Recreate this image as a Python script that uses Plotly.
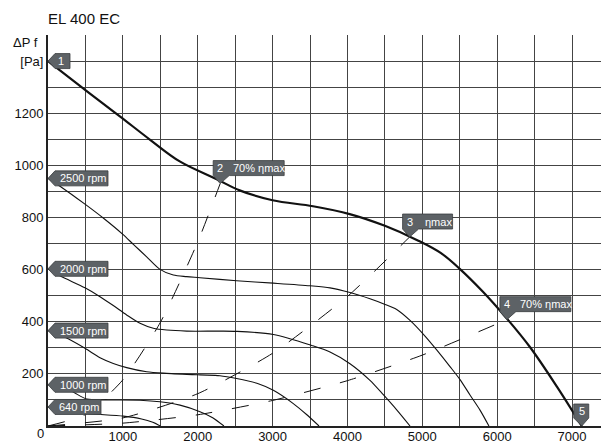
import plotly.graph_objects as go

# ---- data ----
main_x = [0, 530, 960, 1360, 1760, 2260, 2560, 3000, 3540, 4030, 4500, 4940, 5250, 5500, 5810, 6130, 6440, 6800, 7130]
main_y = [1400, 1282, 1188, 1099, 1015, 946, 904, 866, 843, 813, 768, 712, 663, 603, 515, 412, 302, 150, 0]

rpm_names = ["2500 rpm", "2000 rpm", "1500 rpm", "1000 rpm", "640 rpm"]
rpm2500_x = [0, 160, 494, 750, 1000, 1140, 1318, 1496, 1674, 1852, 2030, 2520, 3010, 3500, 3767, 4034, 4301, 4479, 4658, 4836, 5036, 5192, 5370, 5504, 5637, 5771, 5890]
rpm2500_y = [950, 920, 851, 795, 735, 697, 649, 601, 579, 573, 569, 557, 548, 538, 530, 512, 488, 469, 447, 405, 345, 292, 228, 178, 119, 61, 0]
rpm2000_x = [0, 160, 494, 695, 872, 1051, 1229, 1407, 1585, 1852, 2297, 2520, 3010, 3522, 3767, 4034, 4301, 4479, 4658, 4836]
rpm2000_y = [603, 576, 530, 496, 462, 426, 394, 375, 368, 364, 364, 363, 351, 309, 284, 239, 175, 120, 62, 0]
rpm1500_x = [0, 227, 494, 695, 872, 1051, 1318, 1585, 2030, 2297, 2520, 2800, 3010, 3277, 3450, 3620]
rpm1500_y = [366, 340, 298, 262, 240, 224, 208, 202, 196, 193, 182, 163, 137, 86, 45, 0]
rpm1000_x = [0, 300, 520, 800, 1229, 1496, 1763, 2030, 2200, 2350]
rpm1000_y = [158, 135, 103, 100, 99, 93, 80, 55, 32, 0]
rpm640_x = [0, 300, 520, 1007, 1250, 1400, 1500]
rpm640_y = [73, 57, 48, 38, 27, 14, 0]

# system (efficiency) lines, dashed
sys70a_x = [0, 500, 1000, 1500, 2000, 2300]
sys70a_y = [0, 44, 177, 397, 706, 930]
sysmax_x = [0, 1000, 2000, 3000, 4000, 4830]
sysmax_y = [0, 31, 124, 279, 497, 725]
sys70b_x = [0, 1000, 2000, 3000, 4000, 5000, 6130]
sys70b_y = [0, 11, 43, 98, 174, 272, 408]

point_labels = ["1", "2", "3", "4", "5"]
point_x = [0, 2300, 4830, 6130, 7130]
point_y = [1400, 930, 725, 408, 0]
point_texts = ["", "70% ηmax", "ηmax", "70% ηmax", ""]

x_tickvals = list(range(0, 7501, 500))
x_ticktext = [str(v) if (v % 1000 == 0 and v > 0) else "" for v in x_tickvals]
y_tickvals = list(range(0, 1501, 100))
y_ticktext = ["[Pa]" if v == 1400 else (str(v) if (v % 200 == 0 and 0 < v <= 1200) else "") for v in y_tickvals]

LABEL_FILL = "#5d6266"
FONT = "Liberation Sans, Arial, sans-serif"

fig = go.Figure()

for xs, ys in [(sys70a_x, sys70a_y), (sysmax_x, sysmax_y), (sys70b_x, sys70b_y)]:
    fig.add_trace(go.Scatter(x=xs, y=ys, mode="lines", line=dict(color="#111", width=1, dash="17px,20px", shape="spline", smoothing=0.6), hoverinfo="skip"))

rpm_series = [(rpm2500_x, rpm2500_y), (rpm2000_x, rpm2000_y), (rpm1500_x, rpm1500_y), (rpm1000_x, rpm1000_y), (rpm640_x, rpm640_y)]
for xs, ys in rpm_series:
    fig.add_trace(go.Scatter(x=xs, y=ys, mode="lines", line=dict(color="#111", width=1.1, shape="spline", smoothing=0.8), hoverinfo="skip"))

fig.add_trace(go.Scatter(x=main_x, y=main_y, mode="lines", line=dict(color="#111", width=2.2, shape="spline", smoothing=1.0), hoverinfo="skip"))

shapes = []
annotations = []

def left_label(ax, ay, w, text, tx):
    shapes.append(dict(type="path", xref="x", yref="y", xsizemode="pixel", ysizemode="pixel",
                       xanchor=ax, yanchor=ay,
                       path=f"M0,0 L7,7.5 L{w},7.5 L{w},-7.5 L7,-7.5 Z",
                       fillcolor=LABEL_FILL, line=dict(color="#3a3d40", width=0.8), layer="above"))
    annotations.append(dict(x=ax, y=ay, xref="x", yref="y", text=text, showarrow=False,
                            xanchor="center", yanchor="middle", xshift=tx,
                            font=dict(family=FONT, size=11, color="white")))

# rpm labels at curve starts
rpm_widths = [60, 60, 60, 60, 53]
for (xs, ys), name, w in zip(rpm_series, rpm_names, rpm_widths):
    left_label(xs[0], ys[0], w, name, (w + 7) / 2 + 1)

# point 1
left_label(point_x[0], point_y[0], 22, point_labels[0], 13)

# points 2-4: downward callouts
box_w = [64, 43, 64]
for i, w in zip([1, 2, 3], box_w):
    px, py = point_x[i], point_y[i]
    shapes.append(dict(type="path", xref="x", yref="y", xsizemode="pixel", ysizemode="pixel",
                       xanchor=px, yanchor=py,
                       path=f"M0,0 L-7,8 L-7,23 L{w},23 L{w},8 L9,8 Z",
                       fillcolor=LABEL_FILL, line=dict(color="#3a3d40", width=0.8), layer="above"))
    annotations.append(dict(x=px, y=py, xref="x", yref="y", text=point_labels[i], showarrow=False,
                            xanchor="center", yanchor="middle", xshift=0, yshift=15.5,
                            font=dict(family=FONT, size=11, color="white")))
    annotations.append(dict(x=px, y=py, xref="x", yref="y", text=point_texts[i], showarrow=False,
                            xanchor="left", yanchor="middle", xshift=11 if i != 2 else 13, yshift=15.5,
                            font=dict(family=FONT, size=11, color="white")))

# point 5
shapes.append(dict(type="path", xref="x", yref="y", xsizemode="pixel", ysizemode="pixel",
                   xanchor=point_x[4], yanchor=point_y[4],
                   path="M0,0 L-8,8 L-8,22 L7,22 L7,8 Z",
                   fillcolor=LABEL_FILL, line=dict(color="#3a3d40", width=0.8), layer="above"))
annotations.append(dict(x=point_x[4], y=point_y[4], xref="x", yref="y", text=point_labels[4], showarrow=False,
                        xanchor="center", yanchor="middle", yshift=15,
                        font=dict(family=FONT, size=11, color="white")))

# title and axis texts
annotations.append(dict(x=0, y=1, xref="paper", yref="paper", text="EL 400 EC", showarrow=False,
                        xanchor="left", yanchor="middle", yshift=17, xshift=-2,
                        font=dict(family=FONT, size=15, color="#111")))
annotations.append(dict(x=0, y=1500, xref="x", yref="y", text="ΔP f", showarrow=False,
                        xanchor="right", yanchor="middle", xshift=-8, yshift=-7,
                        font=dict(family=FONT, size=13, color="#111")))
annotations.append(dict(x=0, y=0, xref="x", yref="y", text="0", showarrow=False,
                        xanchor="center", yanchor="middle", xshift=-8, yshift=-7,
                        font=dict(family=FONT, size=13, color="#111")))

fig.update_layout(
    width=601, height=444,
    margin=dict(l=48, r=0, t=35, b=18, autoexpand=False),
    paper_bgcolor="white", plot_bgcolor="white",
    showlegend=False,
    shapes=shapes, annotations=annotations,
    font=dict(family=FONT, size=13, color="#111"),
)
fig.update_xaxes(range=[0, 7387], tickvals=x_tickvals, ticktext=x_ticktext,
                 showgrid=True, gridcolor="#444", gridwidth=1.2,
                 showline=True, linecolor="#222", linewidth=2,
                 zeroline=False, ticks="", ticklen=0, automargin=False,
                 ticklabelstandoff=-3,
                 tickfont=dict(family=FONT, size=13, color="#111"))
fig.update_yaxes(range=[0, 1500], tickvals=y_tickvals, ticktext=y_ticktext,
                 showgrid=True, gridcolor="#444", gridwidth=1.2,
                 showline=True, linecolor="#222", linewidth=2,
                 zeroline=False, ticks="", ticklen=0, automargin=False,
                 tickfont=dict(family=FONT, size=13, color="#111"))

fig.write_html("out.html", config={"displayModeBar": False},
               post_script="document.body.style.margin='0';document.body.style.overflow='hidden';")
